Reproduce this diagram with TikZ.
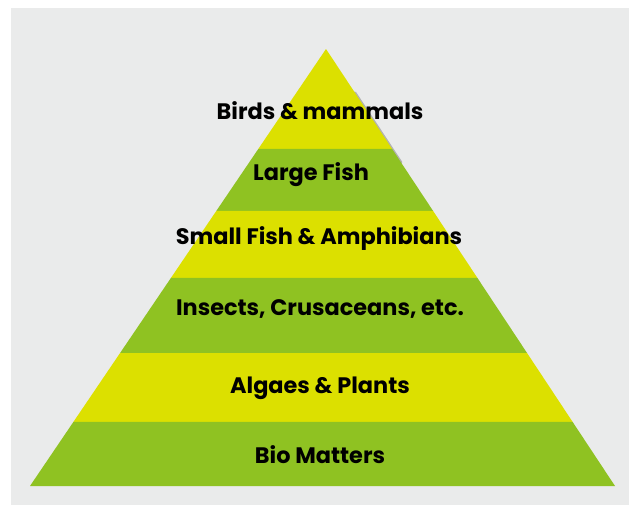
\documentclass[tikz,border=0pt]{standalone}
\usepackage{fontspec}
\setmainfont{Poppins}
\usepackage{tikz}
\usetikzlibrary{calc}
\definecolor{bgcolor}{RGB}{234,235,235}
\definecolor{layeryellow}{RGB}{220,224,0}
\definecolor{layergreen}{RGB}{143,194,34}

\begin{document}
\begin{tikzpicture}[
    x=0.75pt, y=-0.75pt,
    lyr/.style={draw=none},
    ylw/.style={fill=layeryellow},
    grn/.style={fill=layergreen},
    lbl/.style={font=\fontsize{16.8}{20}\selectfont\bfseries, inner sep=0pt, text=black}
  ]
    \useasboundingbox (0,0) rectangle (629,504);
    \fill[bgcolor] (11,8) rectangle (640,512);
    % corners of the pyramid
    \coordinate (top) at (326,49);
    \coordinate (bl) at (30,486);
    \coordinate (br) at (615,486);
    % band edges on both sides
    \foreach \t/\n in {0.2288/a, 0.3707/b, 0.5240/c, 0.6957/d, 0.8535/e} {
      \coordinate (l\n) at ($(top)!\t!(bl)$);
      \coordinate (r\n) at ($(top)!\t!(br)$);
    }
    % thin shadow at the tip
    \draw[black!30, line width=2pt, line cap=round]
      ($(top)!0.10!(br)$) -- ($(top)!0.26!(br)$);
    \fill[lyr,ylw] (top) -- (la) -- (ra) -- cycle;
    \fill[lyr,grn] (la) -- (lb) -- (rb) -- (ra) -- cycle;
    \fill[lyr,ylw] (lb) -- (lc) -- (rc) -- (rb) -- cycle;
    \fill[lyr,grn] (lc) -- (ld) -- (rd) -- (rc) -- cycle;
    \fill[lyr,ylw] (ld) -- (le) -- (re) -- (rd) -- cycle;
    \fill[lyr,grn] (le) -- (bl) -- (br) -- (re) -- cycle;
    \node[lbl] (birds)   at (320,111) {Birds \& mammals};
    \node[lbl] (lfish)   at (311,175) {Large Fish};
    \node[lbl] (sfish)   at (319,239) {Small Fish \& Amphibians};
    \node[lbl] (insects) at (320,309) {Insects, Crusaceans, etc.};
    \node[lbl] (algae)   at (320,388) {Algaes \& Plants};
    \node[lbl] (bio)     at (320,455) {Bio Matters};
\end{tikzpicture}
\end{document}
